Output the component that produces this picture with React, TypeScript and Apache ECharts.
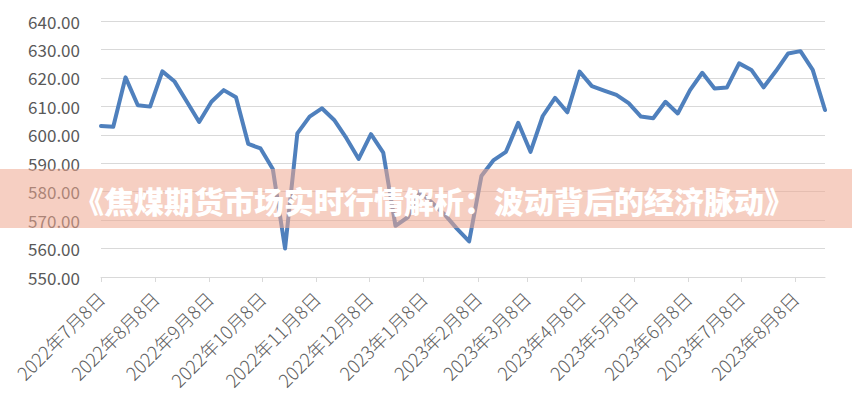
import React, { useEffect, useRef } from "react";
import * as echarts from "echarts";

const dates = [
  "2022-07-08", "2022-07-15", "2022-07-22", "2022-07-29",
  "2022-08-05", "2022-08-12", "2022-08-19", "2022-08-26",
  "2022-09-02", "2022-09-09", "2022-09-16", "2022-09-23", "2022-09-30",
  "2022-10-07", "2022-10-14", "2022-10-21", "2022-10-28",
  "2022-11-04", "2022-11-11", "2022-11-18", "2022-11-25",
  "2022-12-02", "2022-12-09", "2022-12-16", "2022-12-23", "2022-12-30",
  "2023-01-06", "2023-01-13", "2023-01-20", "2023-01-27",
  "2023-02-03", "2023-02-10", "2023-02-17", "2023-02-24",
  "2023-03-03", "2023-03-10", "2023-03-17", "2023-03-24", "2023-03-31",
  "2023-04-07", "2023-04-14", "2023-04-21", "2023-04-28",
  "2023-05-05", "2023-05-12", "2023-05-19", "2023-05-26",
  "2023-06-02", "2023-06-09", "2023-06-16", "2023-06-23", "2023-06-30",
  "2023-07-07", "2023-07-14", "2023-07-21", "2023-07-28",
  "2023-08-04", "2023-08-11", "2023-08-18", "2023-08-25",
];

const prices = [
  603.1, 602.8, 620.2, 610.4, 609.9, 622.3, 618.7, 611.6, 604.5, 611.6,
  615.7, 613.2, 596.8, 595.2, 588.0, 560.0, 600.5, 606.4, 609.3, 605.2,
  598.8, 591.5, 600.2, 593.7, 568.0, 571.0, 580.0, 576.0, 572.0, 567.0,
  562.5, 585.5, 591.1, 594.0, 604.2, 594.0, 606.6, 613.0, 607.9, 622.2,
  617.1, 615.5, 614.0, 611.1, 606.4, 605.8, 611.6, 607.5, 615.7, 621.8,
  616.3, 616.6, 625.1, 622.8, 616.7, 622.4, 628.6, 629.4, 622.8, 608.7,
];

const tickDates = [
  "2022-07-08", "2022-08-08", "2022-09-08", "2022-10-08", "2022-11-08",
  "2022-12-08", "2023-01-08", "2023-02-08", "2023-03-08", "2023-04-08",
  "2023-05-08", "2023-06-08", "2023-07-08", "2023-08-08",
];

const title = "《焦煤期货市场实时行情解析：波动背后的经济脉动》";

const toTs = (s: string) => {
  const [y, m, d] = s.split("-").map(Number);
  return Date.UTC(y, m - 1, d);
};

export default function App() {
  const ref = useRef<HTMLDivElement>(null);
  useEffect(() => {
    document.body.style.margin = "0";
    if (!ref.current) return;
    const chart = echarts.init(ref.current, undefined, { renderer: "svg" });
    const tickTs = tickDates.map(toTs);
    const font = '"Noto Sans CJK SC", "Noto Sans", sans-serif';
    chart.setOption({
      animation: false,
      backgroundColor: "#ffffff",
      grid: { left: 101, right: 27, top: 21, bottom: 123, containLabel: false },
      xAxis: {
        type: "value",
        min: toTs(dates[0]),
        max: toTs(dates[dates.length - 1]),
        axisLine: { show: true, lineStyle: { color: "#d9d9d9", width: 1 } },
        axisTick: { show: true, length: 5, lineStyle: { color: "#d9d9d9" }, customValues: tickTs },
        splitLine: { show: false },
        axisLabel: {
          customValues: tickTs,
          rotate: 45,
          margin: 18,
          color: "#606060",
          fontSize: 18.5,
          fontWeight: 300,
          fontFamily: font,
          formatter: (v: number) => {
            const d = new Date(v);
            return `${d.getUTCFullYear()}年${d.getUTCMonth() + 1}月${d.getUTCDate()}日`;
          },
        },
      },
      yAxis: {
        type: "value",
        min: 550,
        max: 640,
        interval: 10,
        axisLine: { show: false },
        axisTick: { show: false },
        splitLine: { lineStyle: { color: "#d9d9d9", width: 1 } },
        axisLabel: {
          margin: 21,
          color: "#595959",
          fontSize: 17,
          fontFamily: font,
          formatter: (v: number) => v.toFixed(2),
        },
      },
      series: [
        {
          type: "line",
          data: dates.map((d, i) => [toTs(d), prices[i]]),
          showSymbol: false,
          symbol: "none",
          lineStyle: { color: "#4f80bd", width: 4, cap: "round", join: "round" },
          z: 2,
        },
      ],
      graphic: [
        {
          type: "rect",
          z: 100,
          shape: { x: 0, y: 169, width: 852, height: 59 },
          style: { fill: "rgba(238,168,144,0.55)" },
        },
        {
          type: "text",
          z: 101,
          x: 434,
          y: 200,
          style: {
            text: title,
            fill: "#ffffff",
            font: '900 30px "Noto Sans CJK SC"',
            align: "center",
            verticalAlign: "middle",
          },
        },
      ],
    });
    return () => chart.dispose();
  }, []);
  return <div ref={ref} style={{ width: 852, height: 400 }} />;
}
